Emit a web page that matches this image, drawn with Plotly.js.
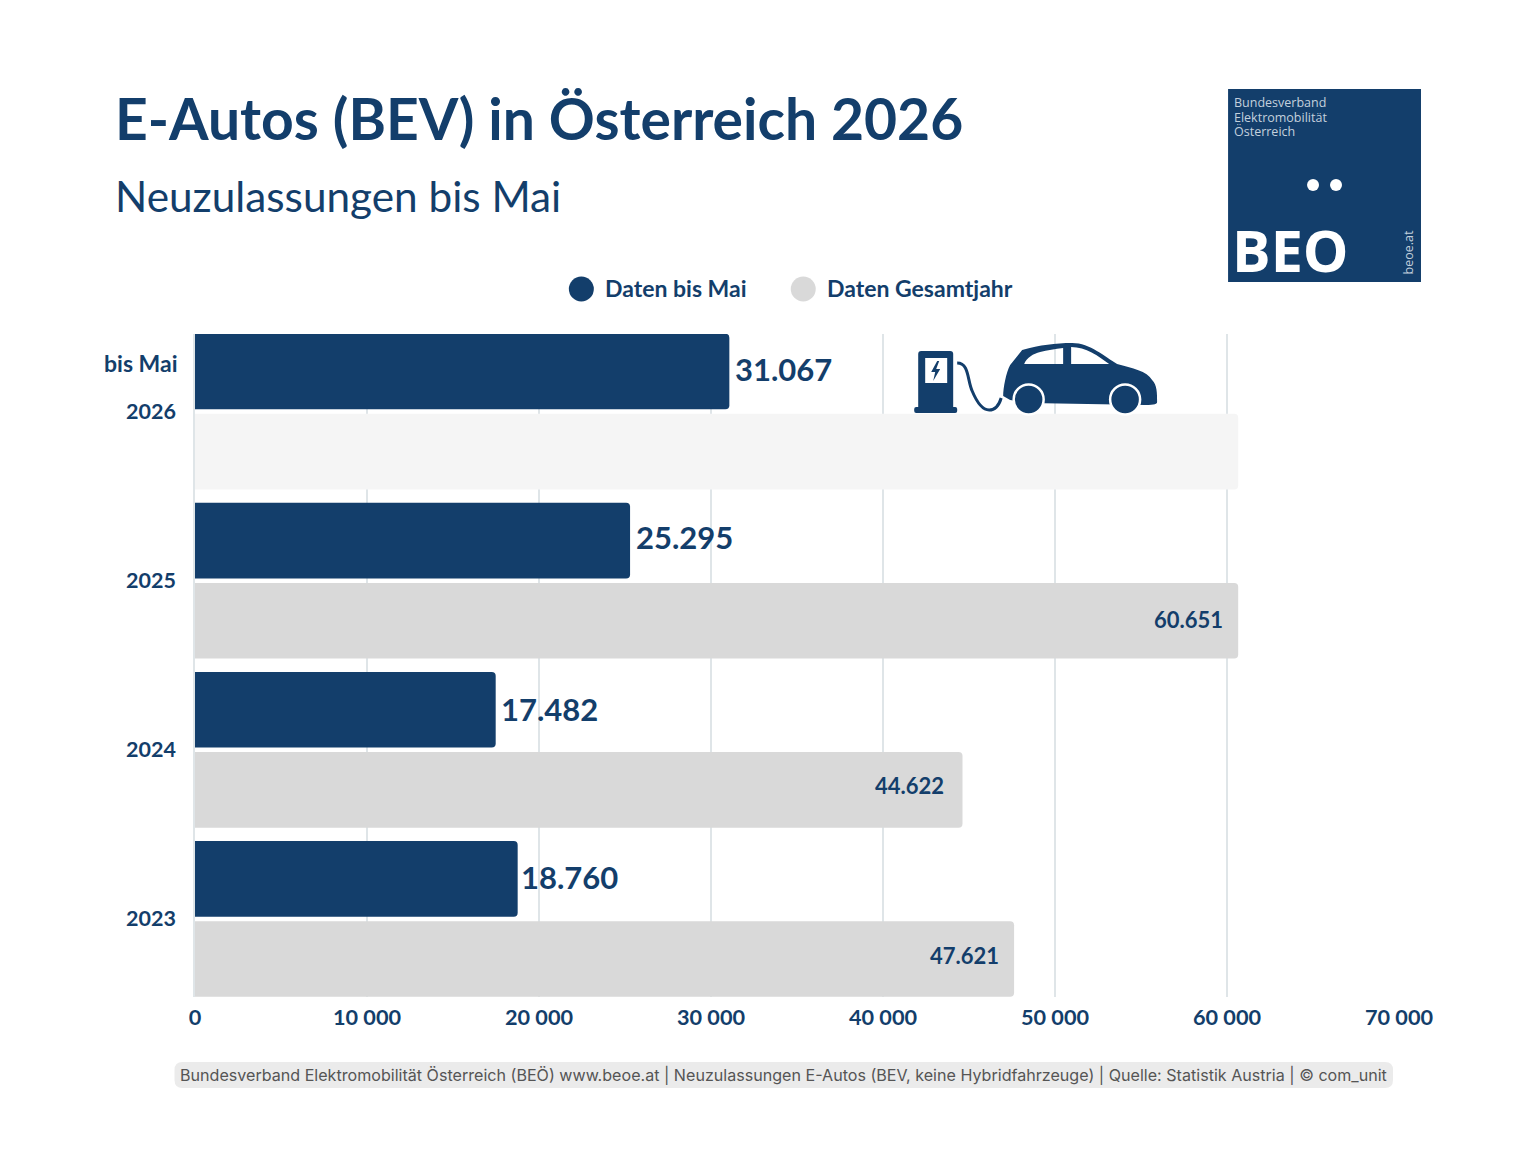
<!DOCTYPE html>
<html>
<head>
<meta charset="utf-8">
<script src="https://cdn.plot.ly/plotly-3.0.1.min.js"></script>
<style>
  html, body { margin: 0; padding: 0; background: #fff; }
  #chart { width: 1536px; height: 1152px; }
</style>
</head>
<body>
<div id="chart"></div>
<script>
const years = ["2026", "2025", "2024", "2023"];
const untilMay = [31067, 25295, 17482, 18760];
const fullYear = [60651, 60651, 44622, 47621];
const untilMayLabels = ["31.067", "25.295", "17.482", "18.760"];
const fullYearLabels = ["", "60.651", "44.622", "47.621"];
const fullYearColors = ["#f5f5f5", "#d9d9d9", "#d9d9d9", "#d9d9d9"];
const xTicks = [0, 10000, 20000, 30000, 40000, 50000, 60000, 70000];
const xTickLabels = ["0", "10 000", "20 000", "30 000", "40 000", "50 000", "60 000", "70 000"];

const WIDTH = 1536;
const HEIGHT = 1152;
const PLOT_LEFT = 194.5;
const PLOT_RIGHT = 1399;
const PLOT_TOP = 334;
const PLOT_BOTTOM = 997;
const NAVY = "#133e6b";
const FONT = "Lato, sans-serif";
const LOGO_FONT = "'Open Sans', sans-serif";
const LOGO_TEXT = "#c3d0dd";

// the value labels were placed by hand in the original, so each gets its own nudge
const untilMayShiftX = [4, 4, 3.5, 1];
const untilMayShiftY = [42.5, 44, 41, 42];
const fullYearShiftX = [0, -13, -17, -13];
const fullYearShiftY = [0, -39, -36, -37];

// paper coordinates are fractions of the plot area, not of the page
const px = (x) => (x - PLOT_LEFT) / (PLOT_RIGHT - PLOT_LEFT);
const py = (y) => (PLOT_BOTTOM - y) / (PLOT_BOTTOM - PLOT_TOP);

function pageText(text, x, y, size, options = {}) {
  return {
    text,
    x: px(x),
    y: py(y),
    xref: "paper",
    yref: "paper",
    xanchor: options.xanchor || "left",
    yanchor: options.yanchor || "middle",
    showarrow: false,
    textangle: options.angle || 0,
    font: { family: options.family || FONT, size, color: options.color || NAVY },
  };
}

// annotations on a category axis take the category's index, not its name
function valueLabel(text, value, yearIndex, size, xanchor, xshift, yshift) {
  return {
    text: `<b>${text}</b>`,
    x: value,
    y: yearIndex,
    xref: "x",
    yref: "y",
    xanchor,
    yanchor: "middle",
    xshift,
    yshift,
    showarrow: false,
    font: { family: FONT, size, color: NAVY },
  };
}

function pageCircle(cx, cy, r, color) {
  return {
    type: "circle",
    xref: "paper",
    yref: "paper",
    x0: px(cx - r),
    x1: px(cx + r),
    y0: py(cy + r),
    y1: py(cy - r),
    fillcolor: color,
    line: { width: 0 },
  };
}

function pageRect(x0, y0, x1, y1, color) {
  return {
    type: "rect",
    xref: "paper",
    yref: "paper",
    x0: px(x0),
    x1: px(x1),
    y0: py(y1),
    y1: py(y0),
    fillcolor: color,
    line: { width: 0 },
  };
}

function pageRoundRect(x0, y0, x1, y1, r, color) {
  const p = (x, y) => `${px(x)},${py(y)}`;
  const path = [
    `M${p(x0 + r, y0)}`,
    `L${p(x1 - r, y0)}`,
    `Q${p(x1, y0)} ${p(x1, y0 + r)}`,
    `L${p(x1, y1 - r)}`,
    `Q${p(x1, y1)} ${p(x1 - r, y1)}`,
    `L${p(x0 + r, y1)}`,
    `Q${p(x0, y1)} ${p(x0, y1 - r)}`,
    `L${p(x0, y0 + r)}`,
    `Q${p(x0, y0)} ${p(x0 + r, y0)}`,
    "Z",
  ].join(" ");
  return { type: "path", xref: "paper", yref: "paper", path, fillcolor: color, line: { width: 0 } };
}

// charging station and car, drawn in a 280x100 box, windows left open so the grid shows through
const carIcon = `<svg xmlns="http://www.w3.org/2000/svg" width="280" height="100" viewBox="0 0 280 100">
  <g fill="${NAVY}">
    <path d="M21 21h29a3 3 0 0 1 3 3v54h-35v-54a3 3 0 0 1 3-3z"/>
    <rect x="14" y="77" width="43" height="6" rx="2"/>
    <path fill-rule="evenodd" d="M103 66C103 58 106 42 110 35L122 20C140 15 155 13 172 13C190 13 205 27 217 34C232 38 247 41 252 50C257 55 257 63 257 72C257 74 255 75 245 75L130 73L110 70Z M124 34C127 27 133 24 140 22C147 20 155 19 163 18V34Z M171 17C186 17 198 26 209 34H171Z"/>
  </g>
  <rect x="25" y="28" width="22" height="25" fill="#fff"/>
  <path d="M37 31l-6 11h4l-2 9 7-12h-4l3-8z" fill="${NAVY}"/>
  <path d="M57 33c12 0 10 17 15 28 5 12 10 19 17 19 6 0 10-5 12-12" fill="none" stroke="${NAVY}" stroke-width="3"/>
  <g fill="${NAVY}" stroke="#fff" stroke-width="2.500">
    <circle cx="128.500" cy="69.500" r="15"/>
    <circle cx="225" cy="69.500" r="15"/>
  </g>
</svg>`;

const traces = [
  {
    type: "bar",
    orientation: "h",
    name: "Daten bis Mai",
    y: years,
    x: untilMay,
    marker: { color: NAVY },
    hoverinfo: "skip",
  },
  {
    type: "bar",
    orientation: "h",
    name: "Daten Gesamtjahr",
    y: years,
    x: fullYear,
    marker: { color: fullYearColors },
    hoverinfo: "skip",
  },
];

const barLabels = [
  ...years.map((year, i) =>
    valueLabel(untilMayLabels[i], untilMay[i], i, 31, "left", untilMayShiftX[i], untilMayShiftY[i])
  ),
  ...years
    .map((year, i) =>
      valueLabel(fullYearLabels[i], fullYear[i], i, 22, "right", fullYearShiftX[i], fullYearShiftY[i])
    )
    .filter((label, i) => fullYearLabels[i]),
];

const layout = {
  width: WIDTH,
  height: HEIGHT,
  margin: { l: PLOT_LEFT, r: WIDTH - PLOT_RIGHT, t: PLOT_TOP, b: HEIGHT - PLOT_BOTTOM, pad: 0 },
  paper_bgcolor: "#ffffff",
  plot_bgcolor: "#ffffff",
  showlegend: false,
  barmode: "group",
  bargap: 0.053,
  bargroupgap: 0.056,
  barcornerradius: 4,
  xaxis: {
    range: [0, 70000],
    tickvals: xTicks,
    ticktext: xTickLabels,
    ticks: "outside",
    ticklen: 1,
    tickcolor: "rgba(0,0,0,0)",
    gridcolor: "#dfe5e8",
    gridwidth: 1.500,
    zeroline: false,
    showline: false,
    tickfont: { family: FONT, size: 21.700, color: NAVY, weight: 700 },
  },
  yaxis: {
    type: "category",
    categoryorder: "array",
    categoryarray: years,
    range: [3.4615, -0.4586],
    ticks: "outside",
    ticklen: 13,
    tickcolor: "rgba(0,0,0,0)",
    showgrid: false,
    zeroline: false,
    showline: true,
    linecolor: "#dfe5e8",
    linewidth: 1.500,
    tickfont: { family: FONT, size: 21.500, color: NAVY, weight: 700 },
  },
  shapes: [
    pageCircle(581, 289, 12.500, NAVY),
    pageCircle(803, 289, 12.500, "#d9d9d9"),
    pageRect(1228, 89, 1421, 282, NAVY),
    pageCircle(1313, 185, 6, "#ffffff"),
    pageCircle(1336, 185, 6, "#ffffff"),
    pageRoundRect(174, 1062, 1393, 1088, 8, "#ebebeb"),
  ],
  annotations: [
    ...barLabels,
    pageText("<b>E-Autos (BEV) in Österreich 2026</b>", 112, 118, 57),
    pageText("Neuzulassungen bis Mai", 112, 195, 42.300),
    pageText("<b>Daten bis Mai</b>", 603, 288, 23),
    pageText("<b>Daten Gesamtjahr</b>", 825, 288, 23),
    pageText("<b>bis Mai</b>", 179, 363, 23, { xanchor: "right" }),
    pageText("Bundesverband", 1231.500, 102.500, 12.500, { color: LOGO_TEXT, family: LOGO_FONT }),
    pageText("Elektromobilität", 1231.500, 117, 12.500, { color: LOGO_TEXT, family: LOGO_FONT }),
    pageText("Österreich", 1231.500, 131.500, 12.500, { color: LOGO_TEXT, family: LOGO_FONT }),
    pageText("<b>BEO</b>", 1229.500, 250, 57.500, { color: "#ffffff", family: LOGO_FONT }),
    pageText("beoe.at", 1408.500, 252, 12.500, { color: LOGO_TEXT, xanchor: "center", angle: -90, family: LOGO_FONT }),
    pageText(
      "Bundesverband Elektromobilität Österreich (BEÖ) www.beoe.at | Neuzulassungen E-Autos (BEV, keine Hybridfahrzeuge) | Quelle: Statistik Austria | © com_unit",
      783.500, 1074.500, 16.100,
      { xanchor: "center", color: "#555555", family: "Inter, sans-serif" }
    ),
  ],
  images: [
    {
      source: "data:image/svg+xml;utf8," + encodeURIComponent(carIcon),
      xref: "paper",
      yref: "paper",
      x: px(900),
      y: py(330),
      sizex: 280 / (PLOT_RIGHT - PLOT_LEFT),
      sizey: 100 / (PLOT_BOTTOM - PLOT_TOP),
      xanchor: "left",
      yanchor: "top",
      sizing: "stretch",
      layer: "above",
    },
  ],
};

Plotly.newPlot("chart", traces, layout, { displayModeBar: false, responsive: false });
</script>
</body>
</html>
